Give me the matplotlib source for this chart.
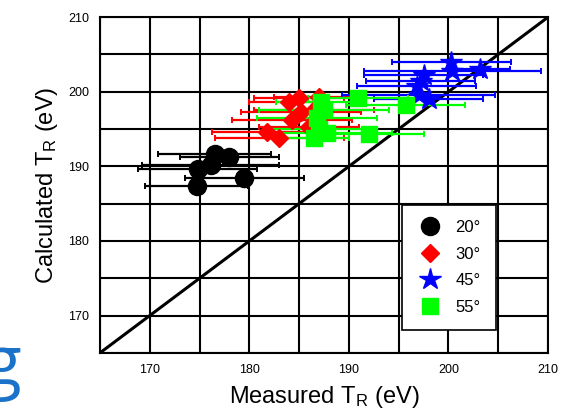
import numpy as np
import matplotlib
matplotlib.use("Agg")
import matplotlib.pyplot as plt
from matplotlib.ticker import MultipleLocator
from matplotlib.lines import Line2D

plt.rcParams["font.family"] = ["Liberation Sans", "DejaVu Sans"]
plt.rcParams["mathtext.default"] = "regular"

# measured T_R (x), its error, and calculated T_R (y) for each angle
x_20 = [176.5, 178.0, 176.1, 174.8, 174.7, 179.5]
y_20 = [191.6, 191.3, 190.2, 189.6, 187.3, 188.4]
e_20 = [5.7, 5.0, 6.9, 6.0, 5.2, 6.0]

x_30 = [181.8, 183.0, 184.3, 185.2, 184.0, 186.0, 185.0, 187.0, 186.5]
y_30 = [194.6, 193.8, 196.2, 197.3, 198.6, 195.3, 199.2, 199.3, 197.6]
e_30 = [5.6, 6.5, 6.0, 6.0, 4.0, 5.0, 4.5, 4.5, 6.0]

x_45 = [200.3, 200.4, 197.5, 197.2, 196.8, 197.0, 203.2, 198.0]
y_45 = [204.0, 202.8, 202.2, 201.5, 200.8, 199.6, 203.0, 199.0]
e_45 = [6.0, 8.9, 6.0, 5.5, 6.0, 7.7, 3.0, 5.5]

x_55 = [186.5, 187.0, 186.8, 187.5, 187.2, 187.8, 190.9, 195.7, 192.0]
y_55 = [193.8, 195.0, 196.5, 197.5, 198.6, 194.5, 199.2, 198.2, 194.4]
e_55 = [3.5, 5.5, 6.0, 6.5, 4.5, 6.5, 5.0, 6.0, 5.5]

series = [
    ("20°", x_20, y_20, e_20, "black", "o", 13),
    ("30°", x_30, y_30, e_30, "#ff0000", "D", 9),
    ("45°", x_45, y_45, e_45, "#0000ff", "*", 16),
    ("55°", x_55, y_55, e_55, "#00ff00", "s", 11),
]

fig = plt.figure(figsize=(5.72, 4.19), dpi=100)
ax = fig.add_axes([0.175, 0.158, 0.783, 0.801])

ax.set_xlim(165, 210)
ax.set_ylim(165, 210)
ax.xaxis.set_major_locator(MultipleLocator(10))
ax.yaxis.set_major_locator(MultipleLocator(10))
ax.xaxis.set_minor_locator(MultipleLocator(5))
ax.yaxis.set_minor_locator(MultipleLocator(5))
ax.grid(which="both", color="black", linewidth=1.5)
ax.set_axisbelow(True)
ax.tick_params(which="both", length=0, labelsize=9, pad=8)
for s in ax.spines.values():
    s.set_linewidth(1.5)

ax.plot([165, 210], [165, 210], color="black", linewidth=2.2, zorder=1.5)

handles = []
for label, xs, ys, es, col, mk, ms in series:
    ax.errorbar(xs, ys, xerr=es, fmt=mk, color=col, ms=ms, mec=col,
                elinewidth=1.6, capsize=2.5, capthick=1.4, zorder=3)
    handles.append(Line2D([], [], ls="none", marker=mk, color=col, mec=col,
                          ms=ms, label=label))

leg = ax.legend(handles=handles, loc="lower left", bbox_to_anchor=(0.674, 0.068),
                borderaxespad=0, fancybox=False, edgecolor="black", framealpha=1,
                fontsize=12, labelspacing=0.7, handletextpad=0.7, borderpad=0.9,
                handlelength=1.6)
leg.get_frame().set_linewidth(1.2)
leg.set_zorder(5)

ax.set_xlabel("Measured T$_R$ (eV)", fontsize=17, labelpad=6)
ax.set_ylabel("Calculated T$_R$ (eV)", fontsize=17, labelpad=6)

fig.text(0.038, 0.08, "g", color="#1a73c8", fontsize=50, ha="right", va="baseline",
         family="Open Sans")

fig.savefig("out.png", dpi=100)
